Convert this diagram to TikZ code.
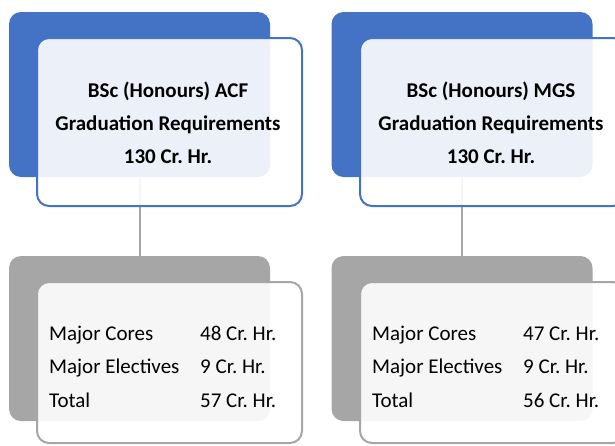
\documentclass[tikz,border=0pt]{standalone}
\usepackage{fontspec}
\setmainfont{Carlito}
\frenchspacing
\definecolor{accblue}{HTML}{4472C4}
\definecolor{accgray}{HTML}{A6A6A6}
\begin{document}
\begin{tikzpicture}[x=1pt,y=-1pt,
  backblue/.style={rectangle,rounded corners=12pt,fill=accblue,minimum width=261pt,minimum height=165pt,inner sep=0pt},
  backgray/.style={rectangle,rounded corners=12pt,fill=accgray,minimum width=261pt,minimum height=165pt,inner sep=0pt},
  frontblue/.style={rectangle,rounded corners=12pt,draw=accblue,line width=2pt,fill=white,fill opacity=0.9,minimum width=265pt,minimum height=168pt,inner sep=0pt},
  frontgray/.style={rectangle,rounded corners=12pt,draw=accgray,line width=2pt,fill=white,fill opacity=0.9,minimum width=265pt,minimum height=161pt,inner sep=0pt},
  link/.style={draw=accgray,line width=2pt},
  titletext/.style={align=center,inner sep=0pt,font=\fontsize{21}{33}\selectfont\bfseries},
  tabletext/.style={anchor=west,inner sep=0pt,font=\fontsize{21}{33.5}\selectfont}
]
\useasboundingbox (0,0) rectangle (615,445);
\clip (0,0) rectangle (615,445);
% back shapes
\node[backblue] (bl) at (139.5,94.5) {};
\node[backblue] (br) at (462,94.5) {};
\node[backgray] (gl) at (139.5,338.5) {};
\node[backgray] (gr) at (462,338.5) {};
% connectors
\draw[link] (bl.south) -- (gl.north);
\draw[link] (br.south) -- (gr.north);
% front shapes
\node[frontblue] (fl) at (169.5,122) {};
\node[frontblue] (fr) at (492.5,122) {};
\node[frontgray] (hl) at (169.5,362.5) {};
\node[frontgray] (hr) at (492.5,362.5) {};
% texts
\node[titletext] (tl) at (168,122.5) {BSc (Honours) ACF\\Graduation Requirements\\130 Cr. Hr.};
\node[titletext] (tr) at (491,122.5) {BSc (Honours) MGS\\Graduation Requirements\\130 Cr. Hr.};
\node[tabletext] (ml) at (49,367) {\begin{tabular}{@{}p{151pt}@{}l@{}}Major Cores & 48 Cr. Hr.\\Major Electives & 9 Cr. Hr.\\Total & 57 Cr. Hr.\end{tabular}};
\node[tabletext] (mr) at (372,367) {\begin{tabular}{@{}p{151pt}@{}l@{}}Major Cores & 47 Cr. Hr.\\Major Electives & 9 Cr. Hr.\\Total & 56 Cr. Hr.\end{tabular}};
\end{tikzpicture}
\end{document}
